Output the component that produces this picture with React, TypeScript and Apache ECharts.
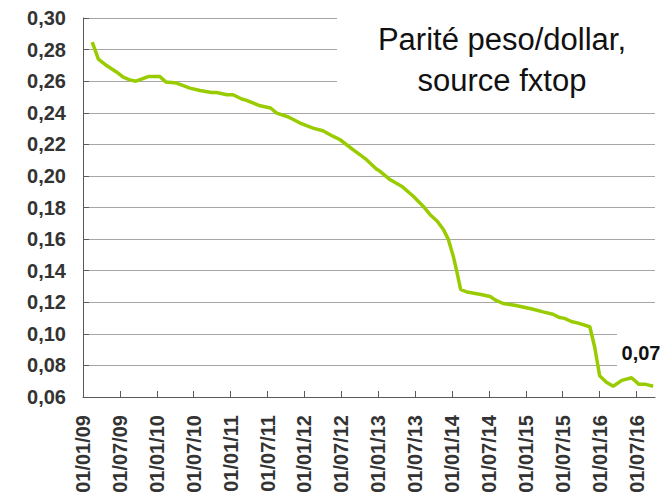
import React, { useEffect, useRef } from "react";
import * as echarts from "echarts";

// Dates of the observations (yyyy-mm-dd)
const dates: string[] = [
  "2009-02-16", "2009-03-16", "2009-04-26", "2009-06-16", "2009-07-17", "2009-08-19",
  "2009-09-19", "2009-10-16", "2009-11-19", "2010-01-16", "2010-02-16", "2010-04-07",
  "2010-06-13", "2010-08-01", "2010-09-28", "2010-10-22", "2010-12-13", "2011-01-13",
  "2011-02-25", "2011-03-19", "2011-05-25", "2011-07-16", "2011-08-16", "2011-10-13",
  "2011-12-10", "2012-02-13", "2012-04-01", "2012-05-22", "2012-06-25", "2012-08-28",
  "2012-11-04", "2012-12-22", "2013-01-10", "2013-02-28", "2013-04-25", "2013-06-22",
  "2013-08-10", "2013-09-13", "2013-10-19", "2013-11-19", "2013-12-13", "2014-01-07",
  "2014-01-22", "2014-02-13", "2014-03-13", "2014-05-16", "2014-07-07", "2014-08-01",
  "2014-09-10", "2014-11-07", "2015-02-07", "2015-03-25", "2015-05-13", "2015-06-16",
  "2015-07-10", "2015-08-13", "2015-09-16", "2015-11-13", "2015-12-07", "2016-01-01",
  "2016-02-04", "2016-03-07", "2016-04-19", "2016-06-07", "2016-07-13", "2016-08-16",
  "2016-09-22",
];

// Peso / dollar parity
const parity: number[] = [
  0.2847, 0.2739, 0.2699, 0.2657, 0.2625, 0.2608,
  0.26, 0.2613, 0.2629, 0.2629, 0.2594, 0.2588,
  0.2556, 0.2541, 0.2528, 0.2528, 0.2514, 0.2514,
  0.2487, 0.2478, 0.2444, 0.243, 0.2398, 0.2373,
  0.2335, 0.2303, 0.2286, 0.225, 0.2229, 0.2166,
  0.2103, 0.2044, 0.2029, 0.1977, 0.1935, 0.1871,
  0.1808, 0.1756, 0.1713, 0.1661, 0.1598, 0.1492,
  0.1408, 0.1282, 0.1265, 0.1251, 0.1236, 0.1215,
  0.1192, 0.1181, 0.1156, 0.1139, 0.1124, 0.1103,
  0.1098, 0.1078, 0.1068, 0.1045, 0.0915, 0.0735,
  0.0693, 0.0668, 0.0705, 0.0722, 0.068, 0.068,
  0.0668,
];

// Tick dates on the x axis (every six months)
const tickDates: string[] = [
  "2009-01-01", "2009-07-01", "2010-01-01", "2010-07-01", "2011-01-01", "2011-07-01",
  "2012-01-01", "2012-07-01", "2013-01-01", "2013-07-01", "2014-01-01", "2014-07-01",
  "2015-01-01", "2015-07-01", "2016-01-01", "2016-07-01",
];
const axisStart = "2009-01-01";
const axisEnd = "2016-10-01";

const titleText = "Parité peso/dollar,\nsource fxtop";

// months elapsed since January 2009
const toMonth = (s: string): number => {
  const [y, m, d] = s.split("-").map(Number);
  return (y - 2009) * 12 + (m - 1) + (d - 1) / 30;
};
const monthLabel = (v: number): string => {
  const idx = Math.round(v);
  const y = 9 + Math.floor(idx / 12);
  const mo = (idx % 12) + 1;
  return "01/" + String(mo).padStart(2, "0") + "/" + String(y).padStart(2, "0");
};
const comma = (v: number) => v.toFixed(2).replace(".", ",");

const FONT = "'Liberation Sans', Arial, sans-serif";

export default function App() {
  const ref = useRef<HTMLDivElement>(null);
  useEffect(() => {
    if (!ref.current) return;
    const chart = echarts.init(ref.current, undefined, { renderer: "svg" });
    const seriesData = dates.map((d, i) => [toMonth(d), parity[i]]);
    const ticks = tickDates.map(toMonth);
    const last = parity[parity.length - 1];
    chart.setOption({
      animation: false,
      backgroundColor: "#ffffff",
      grid: { left: 83, right: 9, top: 18, bottom: 104, containLabel: false },
      xAxis: {
        type: "value",
        min: toMonth(axisStart),
        max: toMonth(axisEnd),
        axisLine: { show: true, lineStyle: { color: "#595959", width: 1 } },
        axisTick: { show: true, inside: true, length: 6, customValues: ticks, lineStyle: { color: "#595959" } },
        splitLine: { show: false },
        axisLabel: {
          customValues: ticks,
          rotate: 90,
          margin: 18,
          fontSize: 20,
          fontWeight: "bold",
          fontFamily: FONT,
          color: "#333333",
          formatter: (v: number) => monthLabel(v),
        },
      },
      yAxis: {
        type: "value",
        min: 0.06,
        max: 0.3,
        interval: 0.02,
        axisLine: { show: true, lineStyle: { color: "#595959", width: 1 } },
        axisTick: { show: true, inside: true, length: 6, lineStyle: { color: "#595959" } },
        splitLine: { show: true, lineStyle: { color: "#a6a6a6", width: 1 } },
        axisLabel: {
          margin: 17,
          fontSize: 20,
          fontWeight: "bold",
          fontFamily: FONT,
          color: "#333333",
          formatter: (v: number) => comma(v),
        },
      },
      series: [
        {
          type: "line",
          data: seriesData,
          showSymbol: false,
          symbol: "none",
          lineStyle: { color: "#99cc00", width: 3.5 },
          z: 3,
        },
      ],
      graphic: [
        {
          type: "rect",
          z: 10,
          shape: { x: 337, y: 14, width: 319, height: 91 },
          style: { fill: "#ffffff" },
        },
        {
          type: "text",
          z: 11,
          x: 502,
          y: 19,
          style: {
            text: titleText,
            fill: "#111111",
            font: "31px " + FONT,
            lineHeight: 41,
            align: "center",
            verticalAlign: "top",
          },
        },
        {
          type: "rect",
          z: 10,
          shape: { x: 617, y: 326, width: 40, height: 46 },
          style: { fill: "#ffffff" },
        },
        {
          type: "text",
          z: 11,
          x: 641,
          y: 353,
          style: {
            text: comma(last),
            fill: "#111111",
            font: "bold 20px " + FONT,
            align: "center",
            verticalAlign: "middle",
          },
        },
      ],
    });
    return () => chart.dispose();
  }, []);
  return (
    <div
      ref={ref}
      style={{ position: "fixed", left: 0, top: 0, width: 664, height: 501, background: "#fff" }}
    />
  );
}
